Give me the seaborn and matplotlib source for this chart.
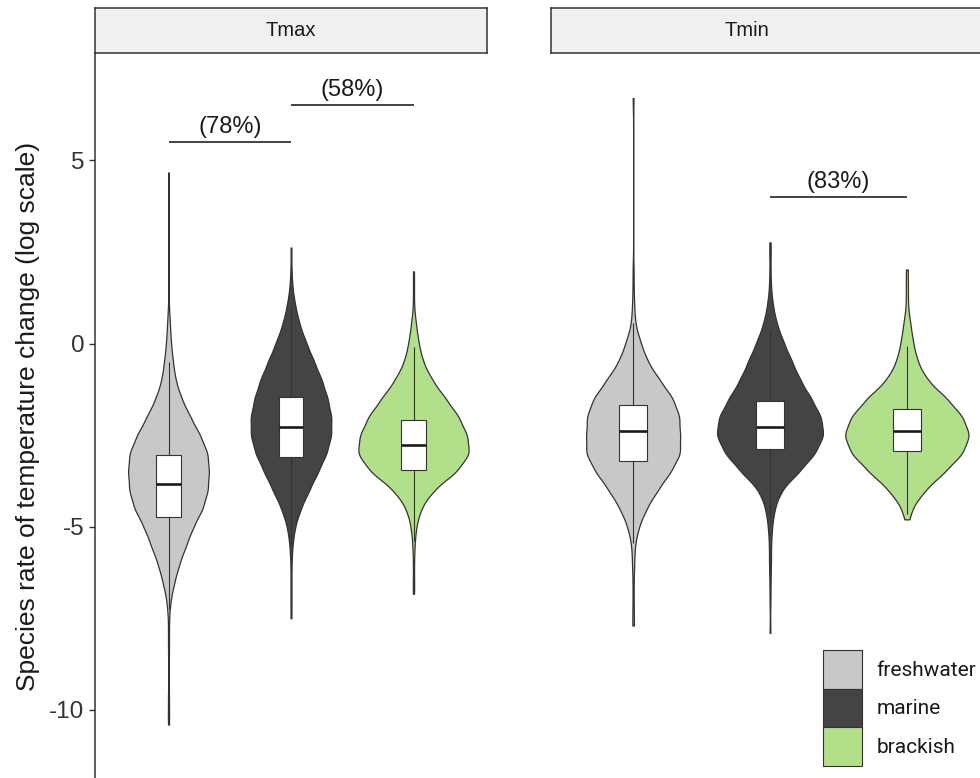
import numpy as np
import pandas as pd
import matplotlib
matplotlib.use("Agg")
import matplotlib.pyplot as plt
from matplotlib.patches import Patch
from matplotlib.font_manager import FontProperties
import seaborn as sns

plt.rcParams["font.family"] = ["Liberation Sans", "DejaVu Sans"]
plt.rcParams["axes.unicode_minus"] = False

habitats = ["freshwater", "marine", "brackish"]
habitat_colours = {"freshwater": "#C8C8C8", "marine": "#444444", "brackish": "#B2DF8A"}
facets = ["Tmax", "Tmin"]

# centres of the 0.5-wide bins used to describe each distribution
bin_centres = [7.0, 6.5, 6.0, 5.5, 5.0, 4.5, 4.0, 3.5, 3.0, 2.5, 2.0, 1.5, 1.0,
               0.5, 0.0, -0.5, -1.0, -1.5, -2.0, -2.5, -3.0, -3.5, -4.0, -4.5,
               -5.0, -5.5, -6.0, -6.5, -7.0, -7.5, -8.0, -8.5, -9.0, -9.5,
               -10.0, -10.5, -11.0]

# number of species per bin
tmax_freshwater_counts = [0, 0, 0, 0, 0, 0, 0, 0, 0, 0, 0, 0, 1, 3, 5, 9, 14, 26, 44,
                          64, 80, 82, 80, 70, 50, 36, 22, 12, 4, 1, 1, 1, 0, 1, 1, 0, 0]
tmax_marine_counts = [0, 0, 0, 0, 0, 0, 0, 0, 0, 0, 1, 3, 9, 18, 32, 48, 64, 76, 84,
                      84, 74, 56, 38, 20, 8, 3, 1, 1, 1, 0, 0, 0, 0, 0, 0, 0, 0]
tmax_brackish_counts = [0, 0, 0, 0, 0, 0, 0, 0, 0, 0, 0, 1, 1, 5, 10, 18, 36, 62, 88,
                        104, 110, 84, 38, 14, 5, 2, 1, 1, 0, 0, 0, 0, 0, 0, 0, 0, 0]
tmin_freshwater_counts = [0, 0, 0, 0, 0, 0, 0, 0, 0, 0, 1, 1, 2, 4, 14, 26, 48, 72, 84,
                          84, 86, 68, 44, 24, 10, 3, 2, 1, 1, 1, 0, 0, 0, 0, 0, 0, 0]
tmin_marine_counts = [0, 0, 0, 0, 0, 0, 0, 0, 0, 1, 1, 2, 6, 14, 28, 44, 60, 82, 102,
                      108, 90, 58, 22, 9, 4, 2, 2, 1, 1, 0, 0, 0, 0, 0, 0, 0, 0]
tmin_brackish_counts = [0, 0, 0, 0, 0, 0, 0, 0, 0, 0, 1, 2, 2, 7, 12, 20, 38, 76, 106,
                        120, 106, 72, 34, 9, 0, 0, 0, 0, 0, 0, 0, 0, 0, 0, 0, 0, 0]

# most extreme species at either end of each distribution
tmax_freshwater_extremes = [4.67, -10.4]
tmax_marine_extremes = [2.62, -7.5]
tmax_brackish_extremes = [1.97, -6.83]
tmin_freshwater_extremes = [6.7, -7.7]
tmin_marine_extremes = [2.76, -7.9]
tmin_brackish_extremes = [2.02, -4.8]

# box summaries: lower whisker, Q1, median, Q3, upper whisker
tmax_freshwater_box = [-7.25, -4.73, -3.83, -3.03, -0.5]
tmax_marine_box = [-5.5, -3.09, -2.29, -1.45, 1.0]
tmax_brackish_box = [-5.4, -3.44, -2.76, -2.1, -0.1]
tmin_freshwater_box = [-5.45, -3.2, -2.4, -1.69, 0.55]
tmin_marine_box = [-4.8, -2.87, -2.27, -1.58, 0.35]
tmin_brackish_box = [-4.65, -2.93, -2.38, -1.78, -0.08]

# pairwise comparison brackets
bracket_facet = ["Tmax", "Tmax", "Tmin"]
bracket_from = ["freshwater", "marine", "marine"]
bracket_to = ["marine", "brackish", "brackish"]
bracket_y = [5.5, 6.5, 4.0]
bracket_labels = ["(78%)", "(58%)", "(83%)"]

groups = {
    ("Tmax", "freshwater"): (tmax_freshwater_counts, tmax_freshwater_extremes, tmax_freshwater_box),
    ("Tmax", "marine"): (tmax_marine_counts, tmax_marine_extremes, tmax_marine_box),
    ("Tmax", "brackish"): (tmax_brackish_counts, tmax_brackish_extremes, tmax_brackish_box),
    ("Tmin", "freshwater"): (tmin_freshwater_counts, tmin_freshwater_extremes, tmin_freshwater_box),
    ("Tmin", "marine"): (tmin_marine_counts, tmin_marine_extremes, tmin_marine_box),
    ("Tmin", "brackish"): (tmin_brackish_counts, tmin_brackish_extremes, tmin_brackish_box),
}

violin_frames, box_frames = [], []
for (facet, habitat), (counts, extremes, box) in groups.items():
    values = np.concatenate([np.repeat(bin_centres, counts), extremes])
    violin_frames.append(pd.DataFrame({"facet": facet, "habitat": habitat, "value": values}))
    box_frames.append(pd.DataFrame({"facet": facet, "habitat": habitat, "value": box}))
violin_df = pd.concat(violin_frames, ignore_index=True)
box_df = pd.concat(box_frames, ignore_index=True)


def fixed_bandwidth(kde):
    # same absolute kernel width for every violin
    return 0.28 / kde.dataset.std(ddof=1)


W, H = 980, 778
fig = plt.figure(figsize=(W / 100, H / 100), dpi=100)
panel_px = {"Tmax": (95, 392), "Tmin": (551, 438)}
panel_top, strip_h = 53, 45
y_lo, y_hi = -11.86, 7.93

axes = {}
for facet in facets:
    x0, w = panel_px[facet]
    ax = fig.add_axes([x0 / W, 0, w / W, (H - panel_top) / H])
    axes[facet] = ax
    sns.violinplot(data=violin_df[violin_df.facet == facet], x="habitat", y="value",
                   hue="habitat", order=habitats, hue_order=habitats,
                   palette=habitat_colours, saturation=1, width=0.9, cut=0,
                   gridsize=500, bw_method=fixed_bandwidth, density_norm="area",
                   common_norm=True, inner=None, linewidth=0.9,
                   linecolor="#333333", legend=False, ax=ax)
    sns.boxplot(data=box_df[box_df.facet == facet], x="habitat", y="value",
                order=habitats, color="white", saturation=1, width=0.2,
                linewidth=0.8, linecolor="#333333", whis=1.5, showcaps=False,
                showfliers=False, medianprops={"color": "#1A1A1A", "linewidth": 1.9},
                ax=ax)
    ax.set_xlim(-0.6, 2.6)
    ax.set_ylim(y_lo, y_hi)
    ax.set_xlabel("")
    ax.set_ylabel("")
    ax.set_xticks([])
    ax.set_facecolor("none")
    for side in ["top", "right", "bottom"]:
        ax.spines[side].set_visible(False)

    strip = fig.add_axes([x0 / W, (H - panel_top) / H, w / W, strip_h / H])
    strip.set_facecolor("#F0F0F0")
    strip.set_xticks([])
    strip.set_yticks([])
    for side in ["top", "bottom", "left", "right"]:
        strip.spines[side].set_color("#333333")
        strip.spines[side].set_linewidth(1.1)
    strip.text(0.5 * 392 / w, 0.5, facet, transform=strip.transAxes, ha="center",
               va="center", fontsize=14.5, color="#1A1A1A")

left = axes["Tmax"]
left.spines["left"].set_color("#333333")
left.spines["left"].set_linewidth(1.1)
left.set_yticks([-10, -5, 0, 5])
left.set_yticklabels(["-10", "-5", "0", "5"])
left.tick_params(axis="y", length=4.5, width=1.0, color="#333333",
                 labelcolor="#333333", labelsize=17.5, pad=3)
left.set_ylabel("Species rate of temperature change (log scale)", fontsize=19,
                color="#1A1A1A")
left.yaxis.set_label_coords((40 - 95) / 392, 0.4986)

right = axes["Tmin"]
right.spines["left"].set_visible(False)
right.set_yticks([])

for facet, a, b, y, lab in zip(bracket_facet, bracket_from, bracket_to, bracket_y, bracket_labels):
    ax = axes[facet]
    xa, xb = habitats.index(a), habitats.index(b)
    ax.plot([xa, xb], [y, y], color="#111111", linewidth=1.1, solid_capstyle="butt")
    ax.text((xa + xb) / 2, y + 0.12, lab, ha="center", va="bottom", fontsize=17,
            color="#1A1A1A")

handles = [Patch(facecolor=habitat_colours[h], edgecolor="#333333", linewidth=0.8, label=h)
           for h in habitats]
fig.legend(handles=handles, loc="upper left", bbox_to_anchor=(823 / W, 1 - 650 / H),
           frameon=False, borderpad=0, borderaxespad=0, labelspacing=0,
           handlelength=1.85, handleheight=2.48, handletextpad=0.7,
           prop=FontProperties(family="Roboto", size=15), labelcolor="#1A1A1A")

fig.savefig("out.png", dpi=100)
